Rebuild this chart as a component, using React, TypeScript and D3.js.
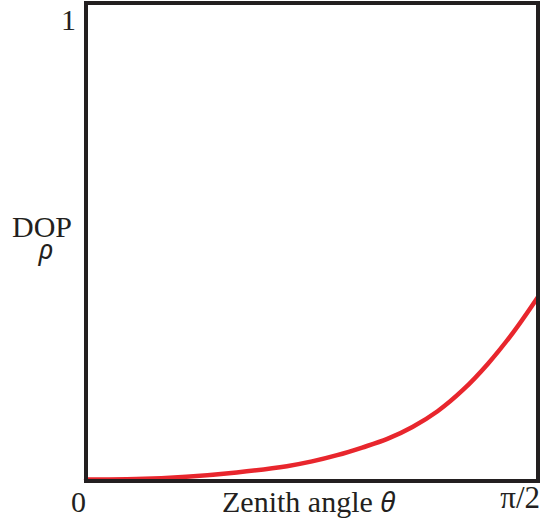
import React from "react";
import * as d3 from "d3";

const thetaDeg = [0, 10, 20, 30, 40, 45, 50, 55, 60, 65, 70, 75, 80, 85, 90];
const dop = [0.003, 0.004, 0.009, 0.018, 0.031, 0.041, 0.054, 0.07, 0.088, 0.113, 0.146, 0.19, 0.245, 0.31, 0.385];
const yTickLabels = ["0", "1"];
const xTickLabels = ["0", "π/2"];

const W = 540;
const H = 531;
const left = 86;
const right = 538;
const top = 3;
const bottom = 481;

export default function App() {
  const x = d3.scaleLinear().domain([0, 90]).range([left, right]);
  const y = d3.scaleLinear().domain([0, 1]).range([bottom, top]);
  const pts = thetaDeg.map((t, i) => [t, dop[i]] as [number, number]);
  const line = d3
    .line<[number, number]>()
    .x((d) => x(d[0]))
    .y((d) => y(d[1]))
    .curve(d3.curveCatmullRom.alpha(0.5));
  const serif = "'Liberation Serif', 'Times New Roman', serif";
  const sans = "'Noto Sans', 'DejaVu Sans', sans-serif";
  return (
    <svg
      width={W}
      height={H}
      style={{ position: "absolute", left: 0, top: 0, background: "#fff" }}
    >
      <rect x={0} y={0} width={W} height={H} fill="#fff" />
      <path d={line(pts) || ""} fill="none" stroke="#e8262d" strokeWidth={4.5} strokeLinecap="round" />
      <rect
        x={left}
        y={top}
        width={right - left}
        height={bottom - top}
        fill="none"
        stroke="#231f20"
        strokeWidth={4}
      />
      <text x={76} y={y(1) + 27} textAnchor="end" fontFamily={serif} fontSize={30} fill="#231f20">
        {yTickLabels[1]}
      </text>
      <text x={left} y={512} textAnchor="end" fontFamily={serif} fontSize={30} fill="#231f20">
        {xTickLabels[0]}
      </text>
      <text x={540} y={508} textAnchor="end" fontFamily={serif} fontSize={31} fill="#231f20">
        {xTickLabels[1]}
      </text>
      <text x={42} y={237} textAnchor="middle" fontFamily={serif} fontSize={30} fill="#231f20">
        DOP
      </text>
      <text x={46} y={259} textAnchor="middle" fontFamily={sans} fontStyle="italic" fontSize={27} fill="#231f20">
        ρ
      </text>
      <text x={222} y={512} textAnchor="start" fontFamily={serif} fontSize={30} fill="#231f20">
        Zenith angle{" "}
        <tspan fontFamily={sans} fontStyle="italic" fontSize={28}>
          θ
        </tspan>
      </text>
    </svg>
  );
}
